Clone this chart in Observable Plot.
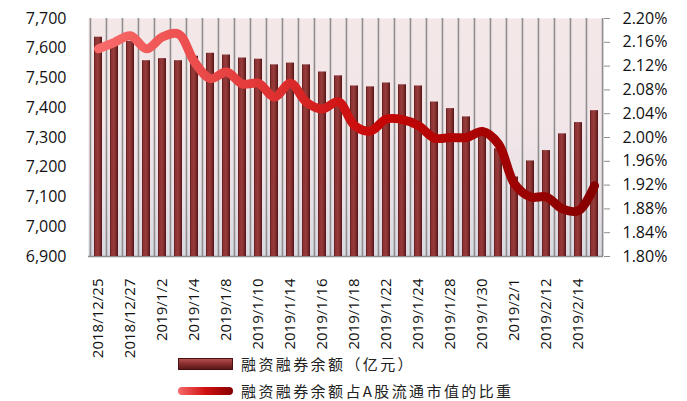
<!DOCTYPE html>
<html>
<head>
<meta charset="utf-8">
<script src="https://cdn.jsdelivr.net/npm/d3@7"></script>
<script src="https://cdn.jsdelivr.net/npm/@observablehq/plot@0.6"></script>
<style>
  html, body { margin: 0; padding: 0; background: #fff; }
  #wrap { position: relative; width: 687px; height: 401px; font-family: "Open Sans", "Noto Sans CJK SC", sans-serif; }
  .leg { position: absolute; left: 178px; height: 18px; line-height: 18px; display: flex; align-items: center; font-family: "Noto Sans CJK SC", sans-serif; font-size: 15px; color: #222; white-space: nowrap; }
  .leg span.t { display: inline-block; letter-spacing: 2.4px; margin-left: 8px; line-height: 18px; }
</style>
</head>
<body>
<div id="wrap"></div>
<script>
const dates = ["2018/12/25","2018/12/26","2018/12/27","2018/12/28","2019/1/2","2019/1/3","2019/1/4","2019/1/7","2019/1/8","2019/1/9","2019/1/10","2019/1/11","2019/1/14","2019/1/15","2019/1/16","2019/1/17","2019/1/18","2019/1/21","2019/1/22","2019/1/23","2019/1/24","2019/1/25","2019/1/28","2019/1/29","2019/1/30","2019/1/31","2019/2/1","2019/2/11","2019/2/12","2019/2/13","2019/2/14","2019/2/15"];
const balance = [7637,7609,7623,7558,7565,7558,7573,7583,7577,7567,7563,7544,7550,7544,7520,7507,7473,7470,7483,7477,7473,7419,7397,7369,7312,7262,7167,7221,7256,7312,7350,7390];
const ratio = [2.149,2.160,2.171,2.149,2.169,2.174,2.127,2.099,2.110,2.090,2.091,2.068,2.091,2.059,2.048,2.060,2.020,2.011,2.031,2.030,2.020,1.999,2.000,2.000,2.010,1.989,1.922,1.900,1.900,1.880,1.877,1.919];
const leftTicks = [6900,7000,7100,7200,7300,7400,7500,7600,7700];
const rightTicks = [1.80,1.84,1.88,1.92,1.96,2.00,2.04,2.08,2.12,2.16,2.20];
const xTicks = dates.filter((d, i) => i % 2 === 0);
const seriesNames = ["融资融券余额（亿元）", "融资融券余额占A股流通市值的比重"];

const L0 = 6900, L1 = 7700, R0 = 1.80, R1 = 2.20;
const toLeft = r => L0 + (r - R0) / (R1 - R0) * (L1 - L0);
const toRight = v => R0 + (v - L0) / (L1 - L0) * (R1 - R0);

const data = dates.map((d, i) => ({date: d, balance: balance[i], ratio: ratio[i]}));
const half = 515 / 32 / 2;

const chart = Plot.plot({
  width: 687,
  height: 360,
  marginLeft: 88,
  marginRight: 84,
  marginTop: 18,
  marginBottom: 104,
  style: {fontFamily: "'Open Sans', sans-serif", color: "#111", background: "transparent"},
  x: {type: "band", domain: dates, paddingInner: 0.5, paddingOuter: 0.25, axis: null},
  y: {domain: [L0, L1], axis: null},
  marks: [
    Plot.frame({fill: "url(#bgGrad)", stroke: "none"}),
    Plot.barY(data, {x: "date", y1: L0, y2: "balance", fill: "#9ea3c0", fillOpacity: 0.6, ariaLabel: "haze"}),
    Plot.ruleX(dates, {x: d => d, dx: -half, stroke: "#8e8e8e", strokeWidth: 1.6}),
    Plot.ruleX([dates[dates.length - 1]], {x: d => d, dx: half, stroke: "#8e8e8e", strokeWidth: 1.6}),
    Plot.ruleY([L0], {stroke: "#8e8e8e", strokeWidth: 1.6}),
    Plot.barY(data, {x: "date", y1: L0, y2: "balance", fill: "url(#barGrad)"}),
    Plot.line(data, {x: "date", y: d => toLeft(d.ratio), curve: "catmull-rom", stroke: "url(#lineGrad)", strokeWidth: 9, strokeLinecap: "round", strokeLinejoin: "round"}),
    Plot.axisY({anchor: "left", ticks: leftTicks, tickFormat: d3.format(","), tickSize: 0, tickPadding: 22, fontSize: 16, ariaLabel: "yleft", label: null}),
    Plot.axisY({anchor: "right", ticks: rightTicks.map(toLeft), tickFormat: v => toRight(v).toFixed(2) + "%", tickSize: 6, tickPadding: 13, fontSize: 16, stroke: "#8e8e8e", ariaLabel: "yright", label: null}),
    Plot.axisX({ticks: xTicks, tickRotate: -90, tickSize: 0, tickPadding: 22, fontSize: 15, ariaLabel: "xax", label: null})
  ]
});

const svg = d3.select(chart);
svg.style("position", "absolute").style("left", "0px").style("top", "0px");
svg.insert("defs", ":first-child").html(`
  <linearGradient id="bgGrad" x1="0" y1="0" x2="0" y2="1">
    <stop offset="0" stop-color="#f3e7e8"/>
    <stop offset="0.45" stop-color="#f2e6e8"/>
    <stop offset="0.8" stop-color="#e6e0e6"/>
    <stop offset="1" stop-color="#d8d7e0"/>
  </linearGradient>
  <linearGradient id="barGrad" x1="0" y1="0" x2="1" y2="0">
    <stop offset="0" stop-color="#5a1818"/>
    <stop offset="0.18" stop-color="#8c3333"/>
    <stop offset="0.5" stop-color="#983b3b"/>
    <stop offset="0.82" stop-color="#742626"/>
    <stop offset="1" stop-color="#4a1010"/>
  </linearGradient>
  <linearGradient id="lineGrad" gradientUnits="userSpaceOnUse" x1="97" y1="0" x2="595" y2="0">
    <stop offset="0" stop-color="#f86a6a"/>
    <stop offset="0.3" stop-color="#e43a3a"/>
    <stop offset="0.55" stop-color="#c80606"/>
    <stop offset="1" stop-color="#850000"/>
  </linearGradient>
`);
svg.selectAll("g").filter(function () { return this.getAttribute("aria-label") === "haze"; })
  .style("filter", "blur(9px)");
svg.selectAll('g[aria-label="yleft"] text, g[aria-label="yright"] text').style("letter-spacing", "1.6px");

const wrap = document.getElementById("wrap");
wrap.appendChild(chart);

const leg1 = document.createElement("div");
leg1.className = "leg";
leg1.style.top = "355px";
leg1.innerHTML = `<span style="display:inline-block;width:55px;height:12px;box-sizing:border-box;border:1px solid #4a1010;background:linear-gradient(#b45050,#8c3030 45%,#5a1818);"></span><span class="t">${seriesNames[0]}</span>`;
wrap.appendChild(leg1);

const leg2 = document.createElement("div");
leg2.className = "leg";
leg2.style.top = "382px";
leg2.innerHTML = `<span style="display:inline-block;width:55px;height:8px;border-radius:4px;background:linear-gradient(90deg,#f86a6a,#d01010 50%,#850000);"></span><span class="t">${seriesNames[1]}</span>`;
wrap.appendChild(leg2);
</script>
</body>
</html>
